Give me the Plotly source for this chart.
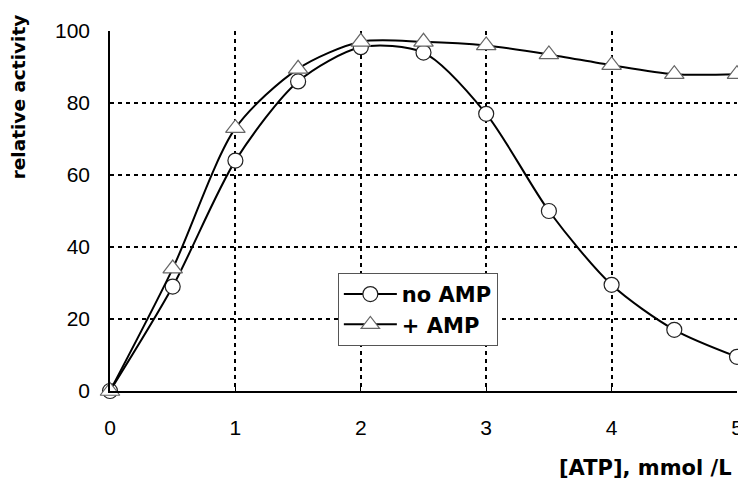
import plotly.graph_objects as go

atp = [0, 0.5, 1, 1.5, 2, 2.5, 3, 3.5, 4, 4.5, 5]
no_amp = [0, 29, 64, 86, 95.5, 94, 77, 50, 29.5, 17, 9.5]
plus_amp = [0, 34, 73, 89.5, 97, 97, 96, 93.5, 90.5, 88, 88]
x_ticks = [0, 1, 2, 3, 4, 5]
y_ticks = [0, 20, 40, 60, 80, 100]

FONT = "Arial, Liberation Sans, sans-serif"
BOLD = "DejaVu Sans, Arial, sans-serif"

fig = go.Figure()
fig.add_trace(go.Scatter(
    x=atp, y=no_amp, name="no AMP", mode="lines+markers",
    line=dict(color="black", width=2, shape="spline", smoothing=0.8),
    marker=dict(symbol="circle", size=15, color="white",
                line=dict(color="#222222", width=1.2)),
    cliponaxis=False, legendgroup="a",
))
fig.add_trace(go.Scatter(
    x=atp, y=plus_amp, name="+ AMP", mode="lines+markers",
    line=dict(color="black", width=2, shape="spline", smoothing=0.8),
    marker=dict(symbol="triangle-up", size=17, color="white",
                line=dict(color="#666666", width=1.2)),
    cliponaxis=False, legendgroup="b",
))

fig.update_layout(
    width=746, height=480,
    margin=dict(l=102, r=11, t=15, b=97),
    paper_bgcolor="white", plot_bgcolor="white",
    font=dict(family=FONT, size=21, color="black"),
    showlegend=True,
    legend=dict(
        x=0.3634, y=0.328, xanchor="left", yanchor="top",
        bgcolor="white", bordercolor="#555555", borderwidth=1,
        font=dict(family=BOLD, size=21, color="black", weight="bold"),
        itemwidth=53, traceorder="grouped", tracegroupgap=0,
    ),
    xaxis=dict(
        range=[0, 5], tickvals=x_ticks, ticktext=[str(v) for v in x_ticks],
        showgrid=True, gridcolor="black", gridwidth=2, griddash="4px,4px",
        showline=True, linecolor="black", linewidth=1.5,
        ticks="inside", ticklen=4, tickcolor="black",
        ticklabelstandoff=17, zeroline=False,
        tickfont=dict(family=FONT, size=21),
    ),
    yaxis=dict(
        range=[0, 100], tickvals=y_ticks, ticktext=[str(v) for v in y_ticks],
        showgrid=True, gridcolor="black", gridwidth=2, griddash="4px,4px",
        showline=True, linecolor="black", linewidth=1.5,
        ticks="inside", ticklen=4, tickcolor="black",
        ticklabelstandoff=14, zeroline=False,
        tickfont=dict(family=FONT, size=21),
    ),
    annotations=[
        dict(text="<b>[ATP], mmol /L</b>", xref="paper", yref="paper",
             x=0.995, y=-0.215, xanchor="right", yanchor="middle",
             showarrow=False, font=dict(family=BOLD, size=21)),
        dict(text="<b>relative activity</b>", xref="paper", yref="paper",
             x=-0.146, y=0.817, xanchor="center", yanchor="middle",
             textangle=-90, showarrow=False, font=dict(family=BOLD, size=18.5)),
    ],
)

fig.write_html("out.html")
